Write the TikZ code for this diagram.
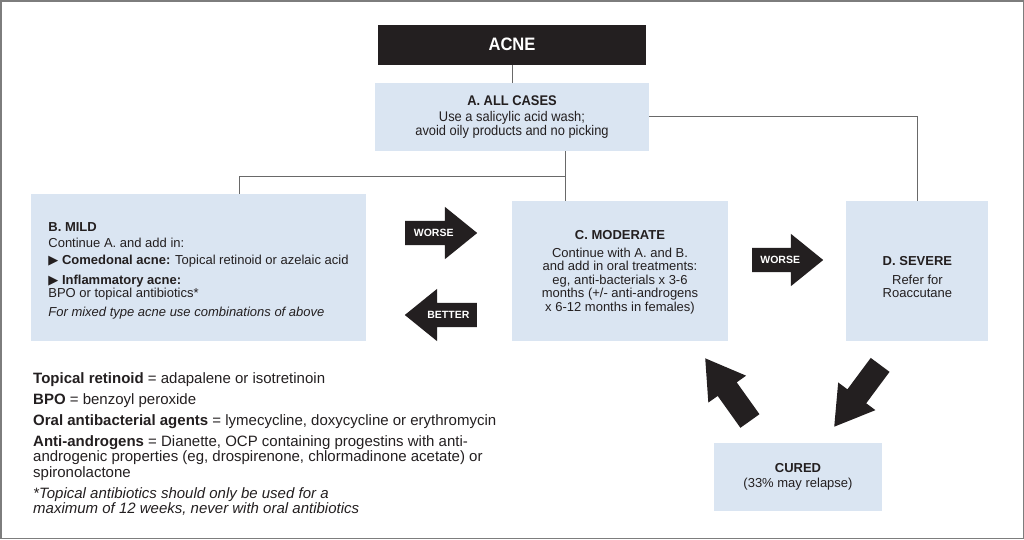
\documentclass[tikz,border=0pt]{standalone}
\usepackage{fontspec}
\setmainfont{Liberation Sans}
\newfontfamily\condfont[FakeStretch=0.92]{Liberation Sans}
\newfontfamily\symfont{DejaVu Sans}
\usetikzlibrary{positioning, shapes.arrows}
\definecolor{boxblue}{RGB}{218,229,242}
\definecolor{ink}{RGB}{35,31,32}
\definecolor{wirecol}{RGB}{105,105,105}
\definecolor{framecol}{RGB}{125,125,125}
\tikzstyle{stage} = [rectangle, fill=boxblue, text=ink, inner sep=0pt,
    align=center, font=\fontsize{13}{13.5}\selectfont]
\tikzstyle{title} = [rectangle, fill=ink, text=white,
    font=\condfont\bfseries\fontsize{18}{20}\selectfont]
\tikzstyle{wire} = [draw=wirecol, line width=0.9pt]
\tikzstyle{blockarrow} = [single arrow, fill=ink, text=white,
    single arrow head extend=14pt, single arrow tip angle=78,
    inner xsep=2pt, inner ysep=8pt, text height=7.5pt, text depth=0.5pt,
    minimum height=72pt, font=\bfseries\fontsize{10.5}{10.5}\selectfont]
\tikzstyle{bigarrow} = [single arrow, fill=ink, inner sep=11.5pt,
    single arrow head extend=11.5pt, single arrow tip angle=63,
    minimum height=77pt]
\newcommand{\bul}{{\symfont\fontsize{13}{13}\selectfont ▶}}

\begin{document}
\begin{tikzpicture}[x=1pt, y=-1pt]
            \useasboundingbox (0,0) rectangle (1024,539);
            \draw[draw=framecol, line width=1.5pt] (0.75,0.75) rectangle (1023.25,538.25);
            % Boxes
            \node[title, minimum width=268pt, minimum height=40pt] (acne) at (512,44.5) {ACNE};
            \node[stage, below=18pt of acne, minimum width=274pt, minimum height=68pt,
            font=\condfont\fontsize{14}{12.5}\selectfont] (allcases)
            {{\bfseries A. ALL CASES}\\[4pt] Use a salicylic acid wash;\\ avoid oily products and no picking};
            \node[stage, minimum width=335pt, minimum height=147pt] (mild) at (198.5,267.5)
            {\begin{tabular}{@{}l@{}}
            \rule{0pt}{17pt}\textbf{B. MILD}\\[2pt]
            Continue A. and add in:\\[4pt]
            \bul\ \textbf{Comedonal acne:} Topical retinoid or azelaic acid\\[6pt]
            \bul\ \textbf{Inflammatory acne:}\\
            BPO or topical antibiotics*\\[5pt]
            \textit{For mixed type acne use combinations of above}
            \end{tabular}};
            \node[stage, minimum width=216pt, minimum height=140pt] (moderate) at (620,271)
            {\rule{0pt}{12pt}\textbf{C. MODERATE}\\[4pt] Continue with A. and B.\\ and add in oral treatments:\\
            eg, anti-bacterials x 3-6\\ months (+/- anti-androgens\\ x 6-12 months in females)};
            \node[stage, right=118pt of moderate, minimum width=142pt, minimum height=140pt] (severe)
            {\rule{0pt}{22pt}\textbf{D. SEVERE}\\[5pt] Refer for\\ Roaccutane};
            \node[stage, minimum width=168pt, minimum height=68pt] (cured) at (798,477)
            {\textbf{CURED}\\[1pt] (33\% may relapse)};
            % Legend
            \node[anchor=north west, align=left, text=ink, inner sep=0pt,
            font=\fontsize{15}{15.5}\selectfont] (glossary) at (33,372)
            {\textbf{Topical retinoid} = adapalene or isotretinoin\\[5.5pt]
            \textbf{BPO} = benzoyl peroxide\\[5.5pt]
            \textbf{Oral antibacterial agents} = lymecycline, doxycycline or erythromycin\\[5.5pt]
            \textbf{Anti-androgens} = Dianette, OCP containing progestins with anti-\\
            androgenic properties (eg, drospirenone, chlormadinone acetate) or\\
            spironolactone\\[5.5pt]
            \textit{*Topical antibiotics should only be used for a}\\
            \textit{maximum of 12 weeks, never with oral antibiotics}};
            % Block arrows
            \node[blockarrow, anchor=tail] (worse) at (405,233) {WORSE};
            \node[blockarrow, shape border rotate=180, anchor=tail] (better) at (477,315) {BETTER};
            \node[blockarrow, minimum height=71pt, anchor=tail] (worsetwo) at (752,260) {WORSE};
            \node[bigarrow, rotate=125.5, anchor=tip] (relapse) at (705,358) {};
            \node[bigarrow, rotate=233.4, anchor=tip] (treated) at (834,427) {};
            % Lines
            \coordinate (fork) at (565,176);
            \coordinate (mildtap) at (239,176);
            \draw[wire] (acne) -- (allcases);
            \draw[wire] (allcases.east) -| (severe.north);
            \draw[wire] (allcases.south -| fork) -- (moderate.north -| fork);
            \draw[wire] (fork) -- (mildtap) -- (mildtap |- mild.north);
        \end{tikzpicture}
\end{document}
